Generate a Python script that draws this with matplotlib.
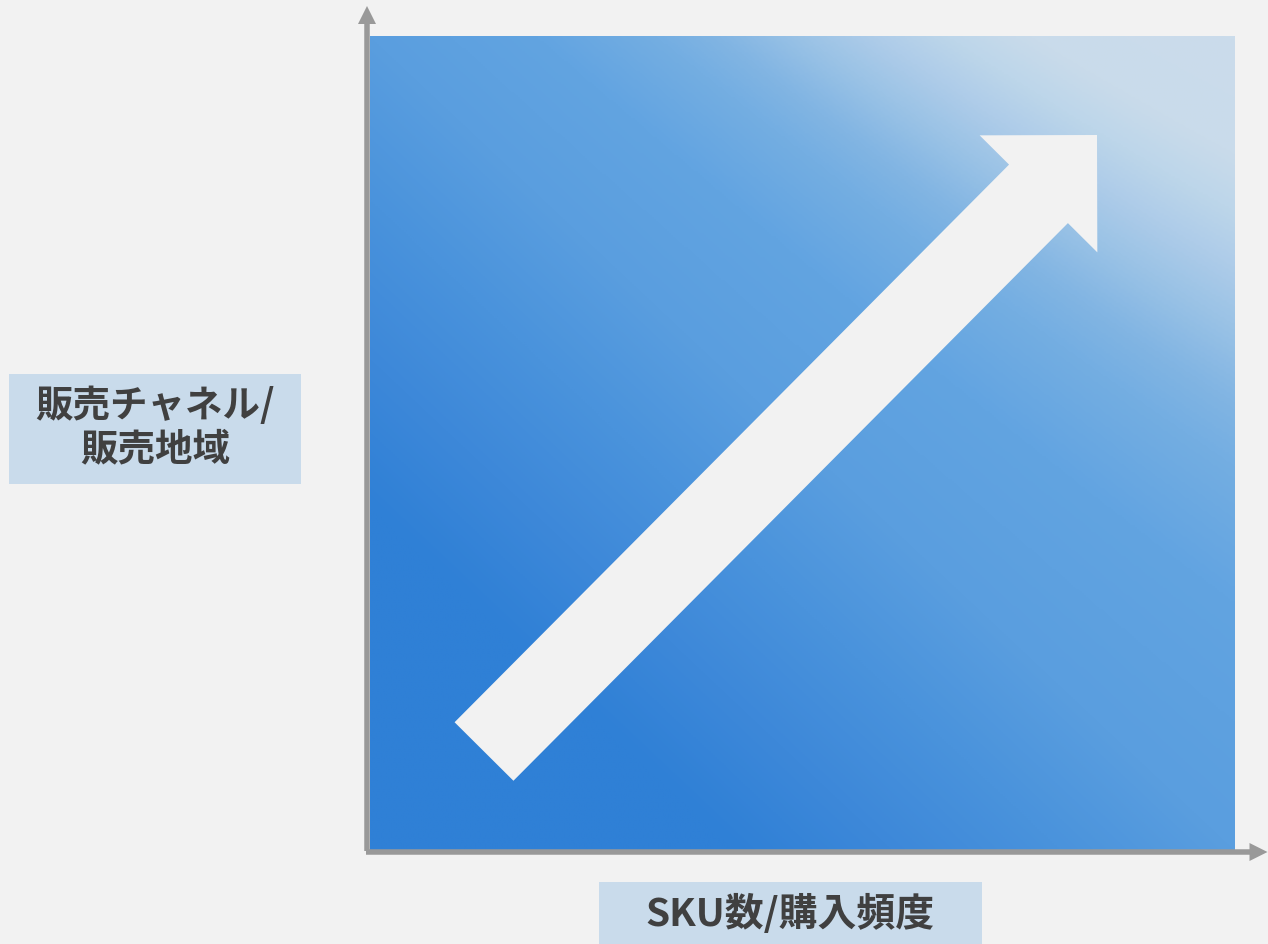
import numpy as np
import matplotlib
matplotlib.use("Agg")
import matplotlib.pyplot as plt
from matplotlib.colors import LinearSegmentedColormap
from matplotlib.patches import FancyArrow, Rectangle

# ---------------- content ----------------
x_axis_label = "SKU数/購入頻度"
y_axis_label_lines = ["販売チャネル/", "販売地域"]

# background gradient: level -> colour (0 = deep blue at lower left, 1 = pale blue at upper right)
gradient_stops = [0.0, 0.21, 0.30, 0.40, 0.50, 0.62, 0.70, 0.74, 0.79, 0.83, 0.87, 0.91, 1.0]
gradient_colors = ["#2F80D6", "#2F80D6", "#3D88D9", "#4A93DC", "#5A9EDF", "#62A4E1",
                   "#74AEE2", "#82B5E3", "#9BC3E6", "#AECCE9", "#BDD6EA", "#C9DBEB", "#CBDCEB"]

# ---------------- style ----------------
BG = "#F2F2F2"
AXIS_GRAY = "#999999"
BOX = "#C9DBEB"
TEXT = "#404040"
FONT = ["Noto Sans CJK JP", "DejaVu Sans"]

W, H = 1268, 945
fig = plt.figure(figsize=(W / 100, H / 100), dpi=100, facecolor=BG)
ax = fig.add_axes([0, 0, 1, 1])
ax.set_xlim(0, W)
ax.set_ylim(H, 0)
ax.axis("off")
ax.set_facecolor(BG)

cmap = LinearSegmentedColormap.from_list("blues", list(zip(gradient_stops, gradient_colors)))

# gradient square: diagonal level field, with iso-lines turning slightly in the pale corner
N = 400
p = np.linspace(0, 1, N)[None, :]          # left -> right
q = np.linspace(1, 0, N)[:, None]          # top -> bottom
s = (p + q) / 2
level = s + 0.3 * (q - p) * np.clip(s - 0.5, 0, None)
level = np.clip(level, 0, 1)

sq_l, sq_r, sq_t, sq_b = 370, 1235, 37, 851
ax.imshow(level, cmap=cmap, vmin=0, vmax=1, interpolation="bilinear",
          extent=(sq_l, sq_r, sq_b, sq_t), aspect="auto", zorder=1)

# big diagonal arrow
tail = (484, 752.5)
tip = (1097, 136)
ax.add_patch(FancyArrow(tail[0], tail[1], tip[0] - tail[0], tip[1] - tail[1],
                        width=83, head_width=166, head_length=83,
                        length_includes_head=True, color=BG, lw=0, zorder=3))

# axis arrows
ax.add_patch(FancyArrow(367, 852, 0, -845, width=5.5, head_width=18, head_length=18,
                        length_includes_head=True, color=AXIS_GRAY, lw=0, zorder=4))
ax.add_patch(FancyArrow(366, 853, 901.5, 0, width=5.5, head_width=18, head_length=18,
                        length_includes_head=True, color=AXIS_GRAY, lw=0, zorder=4))

# y label box
ax.add_patch(Rectangle((9, 375), 292, 110, color=BOX, lw=0, zorder=2))
for i, line in enumerate(y_axis_label_lines):
    ax.text(155, 405 + i * 44, line, ha="center", va="center", fontsize=27,
            fontweight="bold", color=TEXT, family=FONT, zorder=5)

# x label box
ax.add_patch(Rectangle((599, 883), 383, 70, color=BOX, lw=0, zorder=2))
ax.text(790, 914, x_axis_label, ha="center", va="center", fontsize=28,
        fontweight="bold", color=TEXT, family=FONT, zorder=5)

fig.savefig("out.png", dpi=100, facecolor=BG)
